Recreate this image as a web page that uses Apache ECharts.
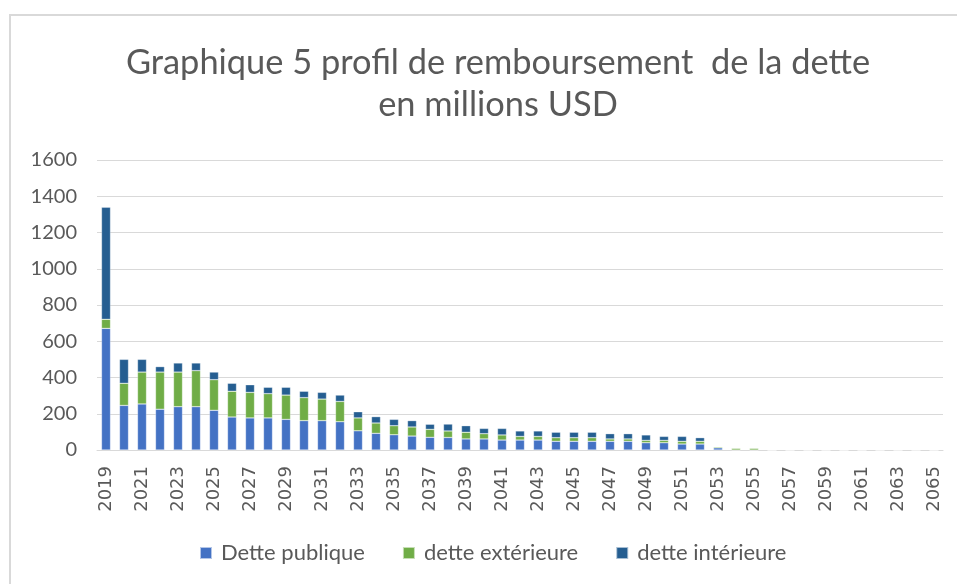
<!DOCTYPE html>
<html>
<head>
<meta charset="utf-8">
<script src="https://cdn.jsdelivr.net/npm/echarts@6/dist/echarts.min.js"></script>
<style>
  html, body { margin: 0; padding: 0; background: #fff; }
  #chart { width: 957px; height: 584px; }
</style>
</head>
<body>
<div id="chart"></div>
<script>
// années 2019 -> 2065
var years = [];
for (var y = 2019; y <= 2065; y++) years.push(String(y));

var dettePublique = [671, 246, 254, 225, 239, 239, 219, 182, 177, 177,
	169, 162, 162, 156, 106, 92, 84, 77, 70, 69,
	61, 61, 55, 55, 55, 48, 48, 48, 48, 48,
	40, 40, 33, 33, 12, 0, 0, 0, 0, 0,
	0, 0, 0, 0, 0, 0, 0];
var detteExterieure = [50, 122, 176, 205, 191, 199, 169, 142, 141, 134,
	134, 127, 119, 112, 71, 57, 50, 50, 44, 36,
	37, 29, 28, 20, 20, 20, 20, 20, 13, 13,
	13, 13, 15, 15, 6, 10, 10, 0, 0, 0,
	0, 0, 0, 0, 0, 0, 0];
var detteInterieure = [618, 132, 70, 30, 50, 42, 42, 44, 42, 35,
	43, 35, 37, 35, 34, 35, 35, 35, 28, 38,
	36, 29, 36, 30, 30, 30, 30, 30, 29, 29,
	30, 22, 27, 20, 0, 0, 0, 0, 0, 0,
	0, 0, 0, 0, 0, 0, 0];
var yTicks = [0, 200, 400, 600, 800, 1000, 1200, 1400, 1600];

var myChart = echarts.init(document.getElementById('chart'));

function barSerie(name, data, color) {
	return {
		type: 'bar',
		name: name,
		stack: 'total',
		data: data,
		barWidth: 9,
		itemStyle: {
			color: color,
			borderColor: 'rgba(255,255,255,0.6)',
			borderWidth: 0.5
		}
	};
}

var option = {
	animation: false,
	textStyle: { fontFamily: 'Lato' },
	title: {
		text: 'Graphique 5 profil de remboursement  de la dette\nen millions USD',
		left: 493,
		textAlign: 'center',
		top: 37,
		textStyle: {
			color: '#595959',
			fontFamily: 'Lato',
			fontWeight: 'normal',
			fontSize: 34.4,
			lineHeight: 42
		}
	},
	graphic: [{
		type: 'rect',
		shape: { x: 10, y: 15, width: 1000, height: 700 },
		style: { fill: 'none', stroke: '#d9d9d9', lineWidth: 2 },
		silent: true
	}],
	grid: {
		left: 97,
		right: 14,
		top: 160,
		bottom: 134
	},
	legend: {
		bottom: 15,
		left: 194,
		icon: 'rect',
		itemWidth: 12,
		itemHeight: 12,
		itemGap: 37,
		textStyle: { color: '#595959', fontSize: 22, fontFamily: 'Lato', padding: [0, 0, 0, 4] },
		data: ['Dette publique', 'dette extérieure', 'dette intérieure']
	},
	xAxis: {
		type: 'category',
		data: years,
		axisLine: { lineStyle: { color: '#d9d9d9' } },
		axisTick: { show: false },
		axisLabel: {
			interval: 1,
			rotate: 90,
			color: '#595959',
			fontSize: 18,
			fontFamily: 'DejaVu Sans',
			margin: 16
		}
	},
	yAxis: {
		type: 'value',
		min: yTicks[0],
		max: yTicks[yTicks.length - 1],
		interval: 200,
		axisLine: { show: false },
		axisTick: { show: false },
		axisLabel: {
			color: '#595959',
			fontSize: 20,
			margin: 20,
			formatter: function (v) { return String(v); }
		},
		splitLine: { lineStyle: { color: '#d9d9d9', width: 1 } }
	},
	series: [
		barSerie('Dette publique', dettePublique, '#4472c4'),
		barSerie('dette extérieure', detteExterieure, '#70ad47'),
		barSerie('dette intérieure', detteInterieure, '#255e91')
	]
};

myChart.setOption(option);
</script>
</body>
</html>
